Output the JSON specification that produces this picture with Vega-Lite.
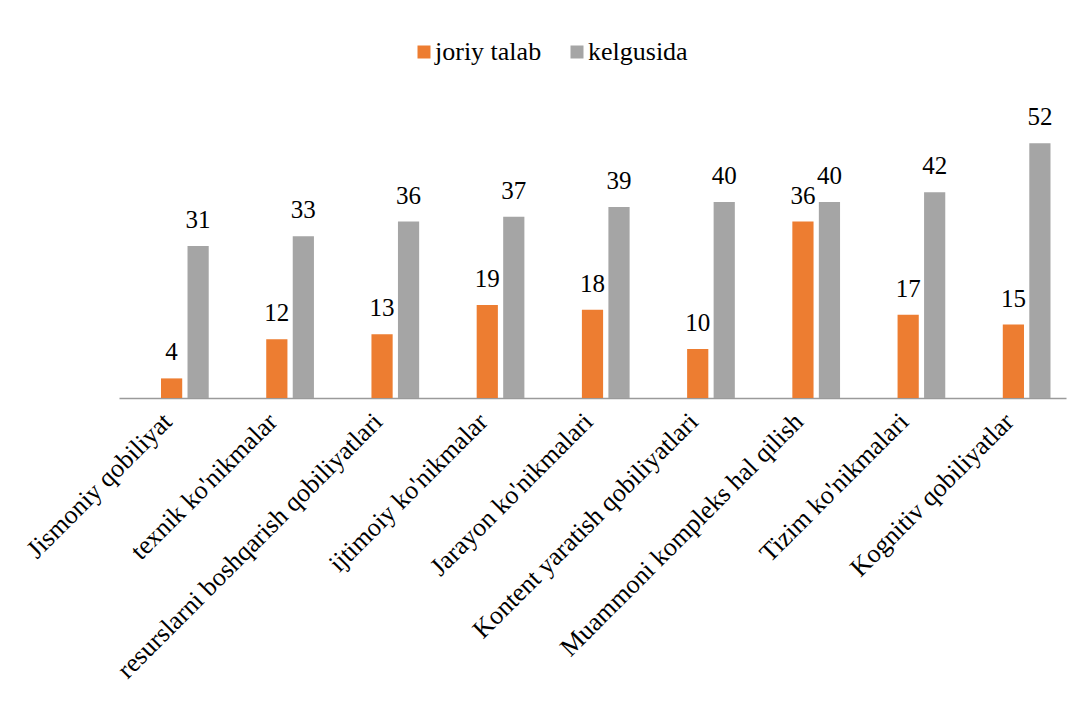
{
  "$schema": "https://vega.github.io/schema/vega-lite/v6.json",
  "width": 947,
  "height": 294,
  "autosize": {"type": "none"},
  "padding": {"left": 119, "top": 104, "right": 14, "bottom": 311},
  "background": "white",
  "config": {
    "view": {"stroke": null},
    "font": "serif",
    "text": {"font": "serif"}
  },
  "data": {
    "values": [
      {"cat": "Jismoniy qobiliyat", "series": "joriy talab", "value": 4},
      {"cat": "Jismoniy qobiliyat", "series": "kelgusida", "value": 31},
      {"cat": "texnik ko'nikmalar", "series": "joriy talab", "value": 12},
      {"cat": "texnik ko'nikmalar", "series": "kelgusida", "value": 33},
      {"cat": "resurslarni boshqarish qobiliyatlari", "series": "joriy talab", "value": 13},
      {"cat": "resurslarni boshqarish qobiliyatlari", "series": "kelgusida", "value": 36},
      {"cat": "ijtimoiy ko'nikmalar", "series": "joriy talab", "value": 19},
      {"cat": "ijtimoiy ko'nikmalar", "series": "kelgusida", "value": 37},
      {"cat": "Jarayon ko'nikmalari", "series": "joriy talab", "value": 18},
      {"cat": "Jarayon ko'nikmalari", "series": "kelgusida", "value": 39},
      {"cat": "Kontent yaratish qobiliyatlari", "series": "joriy talab", "value": 10},
      {"cat": "Kontent yaratish qobiliyatlari", "series": "kelgusida", "value": 40},
      {"cat": "Muammoni kompleks hal qilish", "series": "joriy talab", "value": 36},
      {"cat": "Muammoni kompleks hal qilish", "series": "kelgusida", "value": 40},
      {"cat": "Tizim ko'nikmalari", "series": "joriy talab", "value": 17},
      {"cat": "Tizim ko'nikmalari", "series": "kelgusida", "value": 42},
      {"cat": "Kognitiv qobiliyatlar", "series": "joriy talab", "value": 15},
      {"cat": "Kognitiv qobiliyatlar", "series": "kelgusida", "value": 52}
    ]
  },
  "encoding": {
    "x": {
      "field": "cat",
      "type": "nominal",
      "sort": null,
      "scale": {"paddingInner": 0, "paddingOuter": 0},
      "axis": {
        "title": null,
        "labelAngle": -45,
        "labelFont": "serif",
        "labelFontSize": 26,
        "labelColor": "#000000",
        "labelPadding": 10,
        "labelOffset": -13,
        "labelLimit": 700,
        "ticks": false,
        "domainColor": "#9a9a9a",
        "domainWidth": 1.5,
        "grid": false
      }
    },
    "xOffset": {
      "field": "series",
      "type": "nominal",
      "scale": {"domain": ["_pad", "joriy talab", "kelgusida"], "paddingInner": 0.2, "paddingOuter": 0.585}
    },
    "y": {
      "field": "value",
      "type": "quantitative",
      "scale": {"domain": [0, 60], "nice": false},
      "axis": null
    }
  },
  "layer": [
    {
      "mark": {"type": "bar"},
      "encoding": {
        "color": {
          "field": "series",
          "type": "nominal",
          "scale": {"domain": ["joriy talab", "kelgusida"], "range": ["#ED7D31", "#A5A5A5"]},
          "legend": {
            "title": null,
            "orient": "none",
            "direction": "horizontal",
            "legendX": 292,
            "legendY": -65,
            "symbolType": "square",
            "symbolSize": 169,
            "symbolStrokeWidth": 0,
            "labelFont": "serif",
            "labelFontSize": 26,
            "labelColor": "#000000",
            "labelOffset": -2,
            "columnPadding": 22
          }
        }
      }
    },
    {
      "mark": {"type": "text", "baseline": "alphabetic", "dy": -18, "fontSize": 25, "font": "serif", "color": "#000000"},
      "encoding": {
        "text": {"field": "value", "type": "quantitative"}
      }
    }
  ]
}
